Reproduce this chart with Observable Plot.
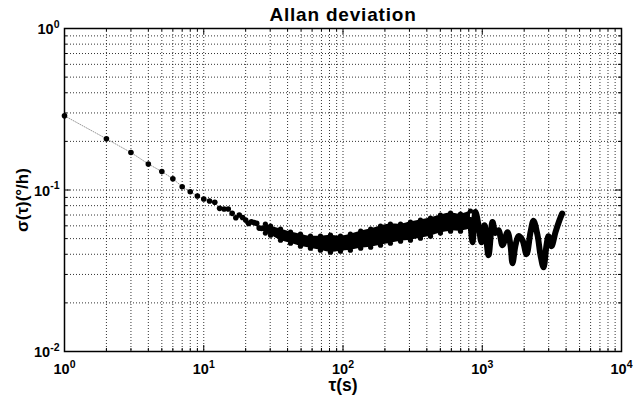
<!DOCTYPE html>
<html><head><meta charset="utf-8">
<script src="https://cdn.jsdelivr.net/npm/d3@7"></script>
<script src="https://cdn.jsdelivr.net/npm/@observablehq/plot@0.6"></script>
<style>
html,body{margin:0;padding:0;background:#fff;}
#chart svg{display:block;}
</style>
</head><body><div id="chart"></div>
<script>
// individual points (short averaging times)
const lowTau = [1,2,3,4,5,6,7,8,9,10,11,12,13,14,15,16,17,18,19,20,21,22,23,24,25,26,27,28,29,30];
const lowSigma = [0.288,0.2075,0.1706,0.145,0.130,0.1175,0.1048,0.0976,0.0918,0.0879,0.0855,0.0839,0.0770,0.0762,0.0762,0.0717,0.0673,0.0700,0.0676,0.0651,0.0621,0.0635,0.0628,0.0621,0.0581,0.0579,0.0579,0.0577,0.0565,0.0579];

// dense noisy band: upper / lower envelope of the overlapping points
const bandTau = [27.7,30.2,35.6,42.0,49.5,58.4,68.9,81.3,95.9,113,134,158,186,219,259,305,360,425,501,592,698,823];
const bandHi = [0.0615,0.0598,0.0573,0.0549,0.0533,0.0518,0.0518,0.0525,0.0518,0.0533,0.0556,0.0573,0.0598,0.0615,0.0615,0.0633,0.0651,0.0670,0.0699,0.0720,0.0710,0.0741];
const bandLo = [0.0541,0.0525,0.0489,0.0468,0.0449,0.0436,0.0424,0.0412,0.0418,0.0424,0.0436,0.0442,0.0455,0.0468,0.0482,0.0489,0.0503,0.0518,0.0541,0.0556,0.0556,0.0573];

// long averaging times: oscillating thick curve
const tailTau = [823,851,894,940,988,1038,1109,1185,1245,1308,1398,1518,1595,1649,1733,1821,1945,2079,2221,2334,2494,2620,2754,2893,2990,3143,3357,3587,3750];
const tailSigma = [0.0651,0.0475,0.0730,0.0606,0.0475,0.0606,0.0395,0.0633,0.0541,0.0564,0.0455,0.0548,0.0455,0.0352,0.0455,0.0518,0.0489,0.0400,0.0548,0.0645,0.0525,0.0395,0.0332,0.0455,0.0518,0.0449,0.0548,0.0651,0.0715];

// ticks
const xDecades = [1,10,100,1000,10000];
const xDecadeLabels = ["10^0","10^1","10^2","10^3","10^4"];
const yDecades = [0.01,0.1,1];
const yDecadeLabels = ["10^-2","10^-1","10^0"];
const xMinor = [2,3,4,5,6,7,8,9,20,30,40,50,60,70,80,90,200,300,400,500,600,700,800,900,2000,3000,4000,5000,6000,7000,8000,9000];
const yMinor = [0.02,0.03,0.04,0.05,0.06,0.07,0.08,0.09,0.2,0.3,0.4,0.5,0.6,0.7,0.8,0.9];

const titleText = "Allan deviation";
const xLabel = "τ(s)";
const yLabel = "σ(τ)(°/h)";

const W = 633, H = 401, mL = 64, mR = 12, mT = 28, mB = 50;
const fw = W - mL - mR, fh = H - mT - mB;
const font = "'Liberation Sans', Arial, Helvetica, sans-serif";
const grid = {stroke: "#000", strokeOpacity: 0.8, strokeDasharray: "1,2", strokeWidth: 1};
const bold = {fontWeight: "bold", fill: "#000"};

const chart = Plot.plot({
  width: W, height: H,
  marginLeft: mL, marginRight: mR, marginTop: mT, marginBottom: mB,
  style: {fontFamily: font, background: "#fff", color: "#000"},
  x: {type: "log", domain: [1, 10000], axis: null},
  y: {type: "log", domain: [0.01, 1], axis: null},
  marks: [
    // dotted grid
    Plot.ruleX(xMinor.concat(xDecades), {x: d => d, ...grid}),
    Plot.ruleY(yMinor.concat(yDecades), {y: d => d, ...grid}),
    // inward ticks on all four sides
    Plot.ruleX(xDecades, {x: d => d, insetTop: fh - 6, stroke: "#000"}),
    Plot.ruleX(xDecades, {x: d => d, insetBottom: fh - 6, stroke: "#000"}),
    Plot.ruleX(xMinor, {x: d => d, insetTop: fh - 3, stroke: "#000"}),
    Plot.ruleX(xMinor, {x: d => d, insetBottom: fh - 3, stroke: "#000"}),
    Plot.ruleY(yDecades, {y: d => d, insetRight: fw - 6, stroke: "#000"}),
    Plot.ruleY(yDecades, {y: d => d, insetLeft: fw - 6, stroke: "#000"}),
    Plot.ruleY(yMinor, {y: d => d, insetRight: fw - 3, stroke: "#000"}),
    Plot.ruleY(yMinor, {y: d => d, insetLeft: fw - 3, stroke: "#000"}),
    // data
    Plot.line(lowTau, {x: lowTau, y: lowSigma, stroke: "#999", strokeWidth: 1, strokeDasharray: "1,1.5"}),
    Plot.areaY(bandTau, {x: bandTau, y1: bandLo, y2: bandHi, fill: "#000", curve: "catmull-rom"}),
    Plot.dot(bandTau, {x: bandTau, y: bandHi, r: 2.6, fill: "#000"}),
    Plot.dot(bandTau, {x: bandTau, y: bandLo, r: 2.6, fill: "#000"}),
    Plot.line(tailTau, {x: tailTau, y: tailSigma, stroke: "#000", strokeWidth: 6, curve: "catmull-rom", strokeLinejoin: "round", strokeLinecap: "round"}),
    Plot.dot(lowTau, {x: lowTau, y: lowSigma, r: 2.8, fill: "#000"}),
    // frame
    Plot.frame({stroke: "#000", strokeWidth: 1.5}),
    // tick labels
    Plot.text(xDecades, {x: d => d, frameAnchor: "bottom", text: xDecadeLabels, dy: 18, lineAnchor: "middle", textAnchor: "middle", fontSize: 14.5, ...bold}),
    Plot.text(yDecades, {y: d => d, frameAnchor: "left", text: yDecadeLabels, dx: -5, dy: 1, lineAnchor: "middle", textAnchor: "end", fontSize: 14.5, ...bold}),
    // title and axis labels
    Plot.text([titleText], {text: d => d, frameAnchor: "top", dy: -8, lineAnchor: "bottom", fontSize: 19, ...bold}),
    Plot.text([xLabel], {text: d => d, frameAnchor: "bottom", dy: 34, lineAnchor: "middle", fontSize: 17.5, ...bold}),
    Plot.text([yLabel], {text: d => d, frameAnchor: "left", dx: -42, rotate: -90, lineAnchor: "middle", fontSize: 17, ...bold})
  ]
});

const root = d3.select(chart);
// turn "10^n" into 10 with a superscript exponent
root.selectAll("text").filter(function () { return this.textContent.includes("^"); }).each(function () {
  const parts = this.textContent.split("^");
  const t = d3.select(this);
  t.text(null);
  t.append("tspan").text(parts[0]);
  t.append("tspan").attr("dy", -6.5).attr("font-size", 10.5).text(parts[1]);
});
root.selectAll("text").filter(function () { return this.textContent === titleText; }).attr("letter-spacing", 0.8);

document.getElementById("chart").appendChild(chart);

// centre the rotated y label on the reference position
root.selectAll("text").filter(function () { return this.textContent === yLabel; }).each(function () {
  const b = this.getBoundingClientRect();
  const cy = b.top + b.height / 2;
  const target = 200;
  const tr = this.getAttribute("transform") || "";
  this.setAttribute("transform", `translate(0,${target - cy}) ` + tr);
});
</script>
</body></html>
